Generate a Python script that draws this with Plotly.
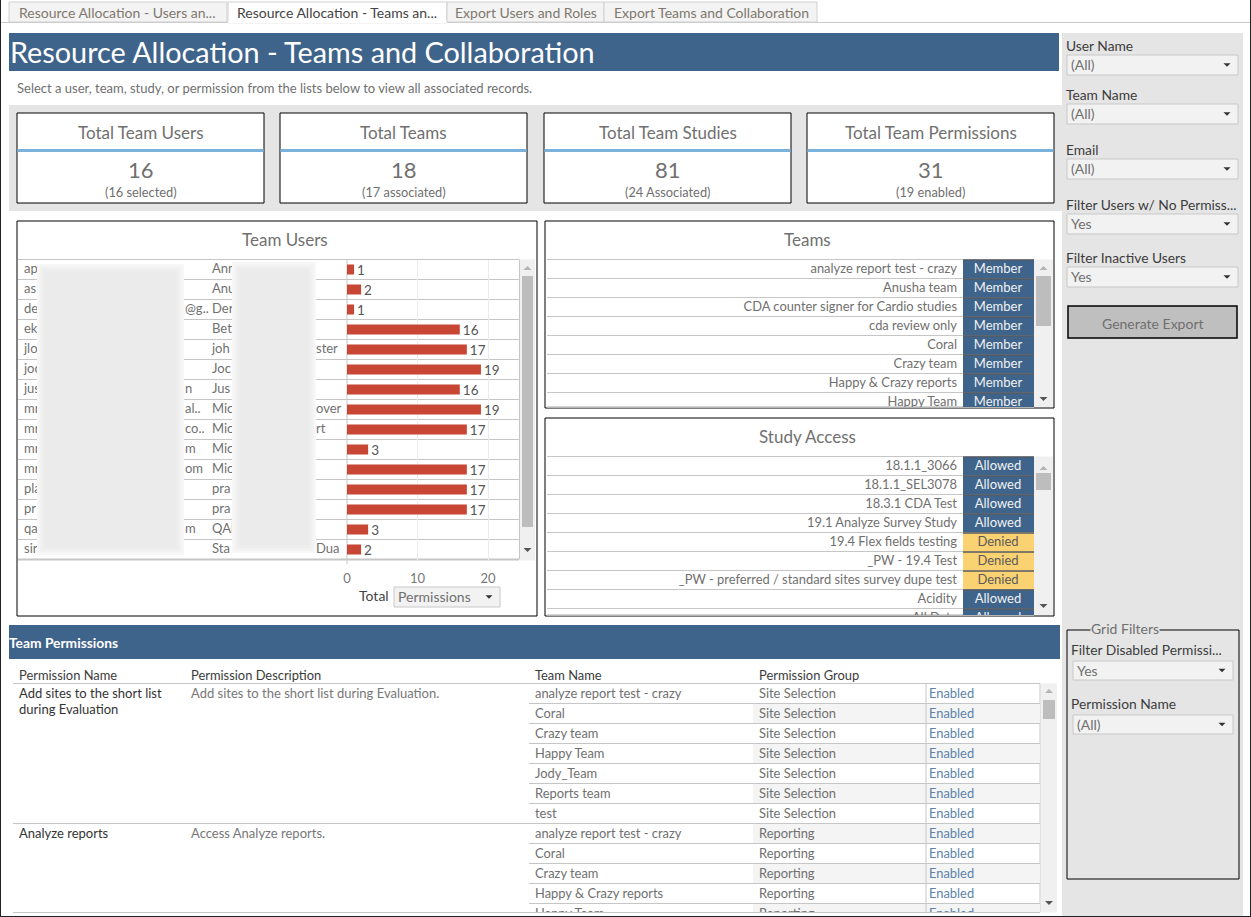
import plotly.graph_objects as go

W, H = 1251, 917
FONT = "Lato"
BLUE = "#3f648b"
BAND = "#e5e5e5"
RULE = "#c6c6c6"
INK = "#707070"

tab_labels = ["Resource Allocation - Users an...", "Resource Allocation - Teams an...",
              "Export Users and Roles", "Export Teams and Collaboration"]

kpi_titles = ["Total Team Users", "Total Teams", "Total Team Studies", "Total Team Permissions"]
kpi_values = ["16", "18", "81", "31"]
kpi_notes = ["(16 selected)", "(17 associated)", "(24 Associated)", "(19 enabled)"]

# names are blurred in the source, only the edges can be read
email_head = ["ap", "as", "de", "ek", "jlo", "joc", "jus", "mr", "mr", "mr", "mr", "pla", "pr", "qa", "sir"]
email_tail = ["", "", "@g..", "", "", "", "n", "al..", "co..", "m", "om", "", "", "m", ""]
name_head = ["Ann", "Anu", "Der", "Bet", "joh", "Joc", "Jus", "Mic", "Mic", "Mic", "Mic", "pra", "pra", "QAl", "Sta"]
name_tail = ["", "", "", "", "ster", "", "", "over", "rt", "", "", "", "", "", "Dua"]
user_permissions = [1, 2, 1, 16, 17, 19, 16, 19, 17, 3, 17, 17, 17, 3, 2]

team_names = ["analyze report test - crazy", "Anusha team", "CDA counter signer for Cardio studies",
              "cda review only", "Coral", "Crazy team", "Happy & Crazy reports", "Happy Team"]
team_roles = ["Member"] * 8

study_names = ["18.1.1_3066", "18.1.1_SEL3078", "18.3.1 CDA Test", "19.1 Analyze Survey Study",
               "19.4 Flex fields testing", "_PW - 19.4 Test",
               "_PW - preferred / standard sites survey dupe test", "Acidity", "All Data"]
study_access = ["Allowed", "Allowed", "Allowed", "Allowed", "Denied", "Denied", "Denied", "Allowed", "Allowed"]

perm_headers = ["Permission Name", "Permission Description", "Team Name", "Permission Group"]
perm_teams = ["analyze report test - crazy", "Coral", "Crazy team", "Happy Team", "Jody_Team", "Reports team",
              "test", "analyze report test - crazy", "Coral", "Crazy team", "Happy & Crazy reports", "Happy Team"]
perm_groups = ["Site Selection"] * 7 + ["Reporting"] * 5
perm_status = ["Enabled"] * 12

filter_labels = ["User Name", "Team Name", "Email", "Filter Users w/ No Permiss...", "Filter Inactive Users"]
filter_values = ["(All)", "(All)", "(All)", "Yes", "Yes"]
grid_filter_labels = ["Filter Disabled Permissi...", "Permission Name"]
grid_filter_values = ["Yes", "(All)"]

shapes = []
notes = []


def fx(x):
    return x / W


def fy(y):
    return 1 - y / H


def rect(x0, y0, x1, y1, fill=None, line=None, lw=1, layer="below"):
    shapes.append(dict(type="rect", xref="paper", yref="paper", x0=fx(x0), x1=fx(x1), y0=fy(y0), y1=fy(y1),
                       fillcolor=fill or "rgba(0,0,0,0)", line=dict(color=line or "rgba(0,0,0,0)", width=lw if line else 0),
                       layer=layer))


def seg(x0, y0, x1, y1, color=RULE, lw=1, layer="below"):
    shapes.append(dict(type="line", xref="paper", yref="paper", x0=fx(x0), x1=fx(x1), y0=fy(y0), y1=fy(y1),
                       line=dict(color=color, width=lw), layer=layer))


def tri(x, y, up=False, color="#555555", s=4):
    d = -1 if up else 1
    path = f"M {fx(x - s)} {fy(y - d * s / 2)} L {fx(x + s)} {fy(y - d * s / 2)} L {fx(x)} {fy(y + d * s / 2)} Z"
    shapes.append(dict(type="path", xref="paper", yref="paper", path=path, fillcolor=color, line=dict(width=0), layer="above"))


def txt(x, y, s, size=12, color=INK, anchor="left", valign="middle", bg=None):
    if anchor == "left":
        x -= 1
    notes.append(dict(xref="paper", yref="paper", x=fx(x), y=fy(y - 0.5), text=s, showarrow=False, xanchor=anchor,
                      yanchor=valign, borderpad=0, bgcolor=bg, align="left" if anchor == "left" else "center",
                      font=dict(family=FONT, size=size, color=color)))


def scrollbar(x0, x1, top, bottom, thumb0, thumb1, up_y, down_y):
    rect(x0, top, x1, bottom, fill="#f0f0f0")
    rect(x0 + 2, thumb0, x1 - 2, thumb1, fill="#bdbdbd")
    mid = (x0 + x1) / 2
    tri(mid, up_y, up=True, color="#b5b5b5")
    tri(mid, down_y, color="#555555")


def dropdown(x0, y0, x1, y1, value):
    rect(x0, y0, x1, y1, fill="#f2f2f2", line="#c8c8c8")
    txt(x0 + 4, (y0 + y1) / 2, value, size=14, color="#707070")
    tri(x1 - 11, (y0 + y1) / 2, color="#333333", s=3.5)


def soft_block(x0, y0, x1, y1):
    # stand-in for the blur over the user names
    for step, fill in enumerate(["#f7f7f7", "#f2f2f2", "#eeeeee", "#ebebeb"]):
        inset = step * 2.5
        rect(x0 + inset, y0 + inset, x1 - inset, y1 - inset, fill=fill, layer="above")


def table_axes(n, left, top, right, bottom, row_h):
    ax = f"{n}" if n > 1 else ""
    rows_low = (bottom - top) / row_h - 0.5
    return {
        f"xaxis{ax}": dict(domain=[fx(left), fx(right)], range=[left, right], visible=False, anchor=f"y{ax}"),
        f"yaxis{ax}": dict(domain=[fy(bottom), fy(top)], range=[rows_low, -0.5], visible=False, anchor=f"x{ax}"),
    }


def text_col(fig, n, x, rows, texts, side="right", size=13, color=INK):
    fig.add_trace(go.Scatter(x=[x] * len(rows), y=rows, text=texts, mode="text", textposition=f"middle {side}",
                             textfont=dict(family=FONT, size=size, color=color), cliponaxis=True,
                             xaxis=f"x{n}", yaxis=f"y{n}", hoverinfo="skip", showlegend=False))


# page frame and tabs
rect(0, 0, W, H, fill="white")
seg(0, 22.5, W, 22.5, color="#c8c8c8")
rect(9, 2, 227, 22, fill="#f3f3f3", line="#d0d0d0")
rect(228, 2, 447, 23, fill="white", line="#d0d0d0")
rect(447, 2, 604, 22, fill="#f3f3f3", line="#d0d0d0")
rect(604, 2, 817, 22, fill="#f3f3f3", line="#d0d0d0")
seg(228, 22.5, 447, 22.5, color="white", lw=2)
for x, label, col in zip([19, 237, 455, 614], tab_labels, ["#80786e", "#444444", "#80786e", "#80786e"]):
    txt(x, 13, label, size=14, color=col)
seg(0.5, 0, 0.5, H, color="#222222")
seg(W - 0.5, 0, W - 0.5, H, color="#222222")
seg(0, H - 0.5, W, H - 0.5, color="#222222")

# heading
rect(9, 33, 1059, 71, fill=BLUE)
txt(10, 52.5, "Resource Allocation - Teams and Collaboration", size=28.8, color="white")
txt(17, 89, "Select a user, team, study, or permission from the lists below to view all associated records.",
    size=13, color="#707070")

# KPI cards
rect(9, 105, 1062, 211, fill=BAND)
for x0, x1, title, value, note in zip([17, 280, 544, 807], [264, 527, 791, 1054], kpi_titles, kpi_values, kpi_notes):
    rect(x0, 113, x1, 203, fill="white", line="black")
    rect(x0 + 0.5, 149, x1 - 0.5, 152, fill="#7bb2dc")
    mid = (x0 + x1) / 2
    txt(mid, 132.5, title, size=17, color="#707070", anchor="center")
    txt(mid, 170, value, size=22, color="#707070", anchor="center")
    txt(mid, 192.5, note, size=12.8, color="#707070", anchor="center")

# panels
rect(17, 221, 537, 616, fill="white", line="black")
rect(545, 221, 1054, 408, fill="white", line="black")
rect(545, 418, 1054, 616, fill="white", line="black")
txt(285, 240, "Team Users", size=17, color="#707070", anchor="center")
txt(807, 240, "Teams", size=17, color="#707070", anchor="center")
txt(807, 437, "Study Access", size=17, color="#707070", anchor="center")

# right filter column
rect(1062, 33, 1243, H - 1, fill=BAND)
for label, value, label_y, y0 in zip(filter_labels, filter_values, [46, 95, 150, 205, 258], [55, 104, 159, 214, 267]):
    txt(1066, label_y, label, size=13.8, color="#3c3c3c")
    dropdown(1067, y0, 1238, y0 + 20, value)
rect(1068, 306, 1237, 338, fill="#bfbfbf", line="black", lw=1.5)
txt(1153, 323.5, "Generate Export", size=14, color="#6f6f6f", anchor="center")
rect(1067, 630, 1239, 879, line="black")
txt(1125, 628.5, "Grid Filters", size=14, color="#707070", anchor="center", bg=BAND)
for label, value, label_y, y0 in zip(grid_filter_labels, grid_filter_values, [650, 704], [661, 715]):
    txt(1071, label_y, label, size=13.8, color="#3c3c3c")
    dropdown(1073, y0, 1233, y0 + 19, value)

# permissions header
rect(9, 625, 1060, 659, fill=BLUE)
txt(9, 643, "<b>Team Permissions</b>", size=13.8, color="white")
for x, label in zip([19, 191, 535, 759], perm_headers):
    txt(x, 675, label, size=12.9, color="#3c3c3c")
seg(13, 683.5, 1040, 683.5)

layout_axes = {}
fig = go.Figure()

# team users: text columns then bars
USER_ROW = 20
users_top, users_bottom = 259.5, 559.5
user_rows = list(range(len(user_permissions)))
layout_axes.update(table_axes(2, 18, users_top, 347, users_bottom, USER_ROW))
text_col(fig, 2, 24, user_rows, email_head)
text_col(fig, 2, 185, user_rows, email_tail)
text_col(fig, 2, 212, user_rows, name_head)
text_col(fig, 2, 316, user_rows, name_tail)
soft_block(37, 264, 184, 555)
soft_block(232, 262, 316, 553)
fig.add_trace(go.Bar(x=user_permissions, y=user_rows, orientation="h", width=0.5, marker=dict(color="#c84634", line=dict(width=0)),
                     text=user_permissions, textposition="outside", cliponaxis=False, constraintext="none",
                     textfont=dict(family=FONT, size=13.5, color="#555555"), hoverinfo="skip", showlegend=False))
layout_axes["xaxis"] = dict(domain=[fx(347), fx(519)], range=[0, 172 / 7.05], anchor="y", tickvals=[0, 10, 20],
                            showgrid=True, gridcolor="#ededed", zeroline=False, showline=False, ticks="outside", ticklen=7,
                            tickcolor="rgba(0,0,0,0)", tickfont=dict(family=FONT, size=13, color="#777777"))
layout_axes["yaxis"] = dict(domain=[fy(users_bottom), fy(users_top)], range=[14.5, -0.5], visible=False, anchor="x")
for i in range(len(user_rows) + 1):
    y = users_top + i * USER_ROW
    seg(18, y, 519, y, lw=1 if i < len(user_rows) else 2)
seg(347, users_top, 347, 564)
seg(519.5, users_top, 519.5, users_bottom)
scrollbar(520, 535, users_top, users_bottom + 1, 276, 527, 268, 550)
txt(359, 596, "Total", size=14, color="#444444")
dropdown(394, 587, 500, 607, "Permissions")


def status_table(n, top, bottom, names, states, thumb, arrows, fills, inks):
    ROW = 19
    rows = list(range(len(names)))
    label_rows = [r + 0.05 for r in rows]
    layout_axes.update(table_axes(n, 547, top, 1034, bottom, ROW))
    fig.add_trace(go.Bar(x=[71] * len(rows), y=rows, base=[963] * len(rows), orientation="h", width=1,
                         marker=dict(color=[fills[s] for s in states], line=dict(width=0)), hoverinfo="skip",
                         showlegend=False, xaxis=f"x{n}", yaxis=f"y{n}"))
    text_col(fig, n, 957, label_rows, names, side="left", size=12.9)
    fig.add_trace(go.Scatter(x=[998] * len(rows), y=label_rows, text=states, mode="text", textposition="middle center",
                             textfont=dict(family=FONT, size=13, color=[inks[s] for s in states]), cliponaxis=True,
                             xaxis=f"x{n}", yaxis=f"y{n}", hoverinfo="skip", showlegend=False))
    for i in rows:
        y = top + i * ROW
        if y < bottom:
            seg(547, y, 963, y)
            seg(963, y + 0.5, 1034, y + 0.5, color="#565a60", lw=1.5, layer="above")
    seg(547, bottom, 1034, bottom, lw=1.5)
    scrollbar(1034, 1053, top, bottom, thumb[0], thumb[1], arrows[0], arrows[1])


fills = {"Member": BLUE, "Allowed": BLUE, "Denied": "#fbd272"}
inks = {"Member": "#f2f2f2", "Allowed": "#f2f2f2", "Denied": "#5a5a5a"}
status_table(3, 259.5, 407, team_names, team_roles, (276, 326), (268, 399), fills, inks)
status_table(4, 456.5, 615, study_names, study_access, (473, 490), (468, 606), fills, inks)

# permissions table
PERM_ROW = 20
perm_top, perm_bottom = 683.5, 912.5
perm_rows = list(range(len(perm_teams)))
perm_label_rows = [r + 0.04 for r in perm_rows]
layout_axes.update(table_axes(5, 13, perm_top, 1040, perm_bottom, PERM_ROW))
shaded = perm_rows[1::2]
fig.add_trace(go.Bar(x=[287] * len(shaded), y=shaded, base=[753] * len(shaded), orientation="h", width=1,
                     marker=dict(color="#f4f4f4", line=dict(width=0)), hoverinfo="skip", showlegend=False,
                     xaxis="x5", yaxis="y5"))
text_col(fig, 5, 535, perm_label_rows, perm_teams, size=12.9)
text_col(fig, 5, 759, perm_label_rows, perm_groups, size=12.9)
text_col(fig, 5, 929, perm_label_rows, perm_status, size=12.9, color="#5b82ab")
for i in perm_rows[1:]:
    y = perm_top + i * PERM_ROW
    seg(529 if i != 7 else 13, y, 1040, y, layer="above")
seg(926, perm_top, 926, perm_bottom, layer="above")
seg(13, perm_bottom, 1040, perm_bottom, layer="above")
seg(1040, perm_top, 1040, perm_bottom)
txt(19, 693, "Add sites to the short list", size=13, color="#333333")
txt(19, 709, "during Evaluation", size=13, color="#333333")
txt(191, 693, "Add sites to the short list during Evaluation.", size=13, color="#777777")
txt(19, 833, "Analyze reports", size=13, color="#333333")
txt(191, 833, "Access Analyze reports.", size=13, color="#777777")
scrollbar(1041, 1057, perm_top, perm_bottom, 700, 719, 691, 903)

fig.update_layout(width=W, height=H, margin=dict(l=0, r=0, t=0, b=0, autoexpand=False), autosize=False,
                  paper_bgcolor="white", plot_bgcolor="rgba(0,0,0,0)", showlegend=False, barmode="overlay",
                  shapes=shapes, annotations=notes, **layout_axes)

fig.write_html("out.html", config=dict(displayModeBar=False),
               post_script="document.body.style.margin='0';document.documentElement.style.overflow='hidden';")
